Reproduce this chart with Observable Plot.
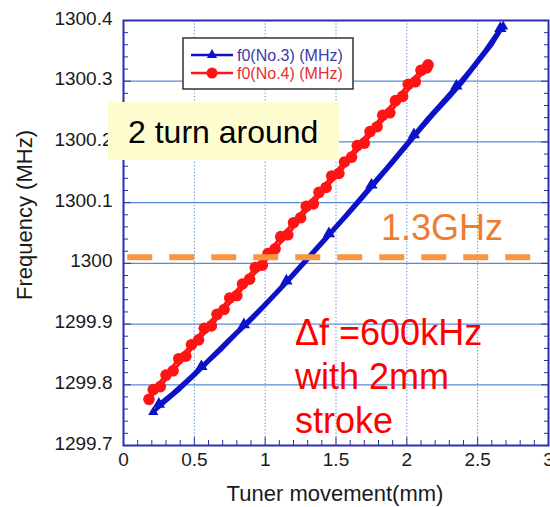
<!DOCTYPE html>
<html><head><meta charset="utf-8">
<script src="https://cdn.jsdelivr.net/npm/d3@7"></script>
<script src="https://cdn.jsdelivr.net/npm/@observablehq/plot@0.6"></script>
<style>
body{margin:0;background:#fff;}
#wrap{width:550px;height:507px;}
</style></head><body><div id="wrap"></div>
<script>
// ---- tick values / labels ----
const xTicks = [0, 0.5, 1, 1.5, 2, 2.5, 3];
const xTickLabels = ["0", "0.5", "1", "1.5", "2", "2.5", "3"];
const yTicks = [1299.7, 1299.8, 1299.9, 1300, 1300.1, 1300.2, 1300.3, 1300.4];
const yTickLabels = ["1299.7", "1299.8", "1299.9", "1300", "1300.1", "1300.2", "1300.3", "1300.4"];
const xMinor = [0.1,0.2,0.3,0.4,0.6,0.7,0.8,0.9,1.1,1.2,1.3,1.4,1.6,1.7,1.8,1.9,2.1,2.2,2.3,2.4,2.6,2.7,2.8,2.9];
const yMinor = [1299.72,1299.74,1299.76,1299.78,1299.82,1299.84,1299.86,1299.88,1299.92,1299.94,1299.96,1299.98,
                1300.02,1300.04,1300.06,1300.08,1300.12,1300.14,1300.16,1300.18,1300.22,1300.24,1300.26,1300.28,
                1300.32,1300.34,1300.36,1300.38];

// ---- series: f0(No.3) two passes ----
const no3UpX = [0.21,0.30,0.40,0.50,0.60,0.70,0.80,0.90,1.00,1.10,1.20,1.30,1.40,1.50,1.60,1.70,1.80,1.90,2.00,2.10,2.20,2.30,2.40,2.50,2.60,2.68];
const no3UpY = [1299.755,1299.773,1299.793,1299.815,1299.838,1299.860,1299.884,1299.906,1299.930,1299.955,1299.980,1300.006,1300.032,1300.058,1300.084,1300.111,1300.138,1300.165,1300.193,1300.221,1300.248,1300.273,1300.300,1300.330,1300.360,1300.390];
const no3DnX = [2.66,2.55,2.45,2.35,2.25,2.15,2.05,1.95,1.85,1.75,1.65,1.55,1.45,1.35,1.25,1.15,1.05,0.95,0.85,0.75,0.65,0.55,0.45,0.35,0.25];
const no3DnY = [1300.387,1300.350,1300.320,1300.292,1300.266,1300.240,1300.212,1300.184,1300.156,1300.129,1300.102,1300.075,1300.049,1300.023,1299.997,1299.971,1299.946,1299.922,1299.899,1299.876,1299.853,1299.830,1299.808,1299.787,1299.768];

// ---- series: f0(No.4) two passes ----
const no4UpX = [0.18,0.26,0.35,0.44,0.53,0.62,0.71,0.80,0.89,0.98,1.07,1.16,1.25,1.34,1.43,1.52,1.61,1.70,1.79,1.88,1.97,2.06,2.14];
const no4UpY = [1299.776,1299.797,1299.823,1299.847,1299.874,1299.897,1299.924,1299.947,1299.974,1299.997,1300.024,1300.047,1300.075,1300.098,1300.125,1300.148,1300.175,1300.198,1300.225,1300.248,1300.275,1300.299,1300.322];
const no4DnX = [2.15,2.10,2.01,1.92,1.83,1.74,1.65,1.56,1.47,1.38,1.29,1.20,1.11,1.02,0.93,0.84,0.75,0.66,0.57,0.48,0.39,0.30,0.21];
const no4DnY = [1300.327,1300.318,1300.295,1300.268,1300.244,1300.217,1300.194,1300.167,1300.144,1300.117,1300.094,1300.067,1300.044,1300.016,1299.993,1299.966,1299.943,1299.916,1299.893,1299.866,1299.843,1299.816,1299.792];

// reference level (1.3 GHz) line
const refLevel = [1300.01];
const refStart = 0.03, refEnd = 2.88;

const seriesNames = ["f0(No.3) (MHz)", "f0(No.4) (MHz)"];
const blue = "#0c12c8", red = "#ff1414";

const toRows = (xs, ys) => xs.map((x, i) => ({x, y: ys[i]}));
const no3Up = toRows(no3UpX, no3UpY), no3Dn = toRows(no3DnX, no3DnY);
const no4Up = toRows(no4UpX, no4UpY), no4Dn = toRows(no4DnX, no4DnY);

const gridC = "#5a8bd2", frameC = "#2c2cb0";
const fmtY = d => yTickLabels[yTicks.findIndex(v => Math.abs(v - d) < 1e-6)];
const fmtX = d => xTickLabels[xTicks.findIndex(v => Math.abs(v - d) < 1e-6)];

const svg = Plot.plot({
  width: 550, height: 507,
  marginLeft: 123, marginRight: 2, marginTop: 20, marginBottom: 62,
  style: {fontFamily: "'Liberation Sans', Arial, sans-serif", fontSize: "19px", color: "#1a1a1a", background: "#fff"},
  x: {domain: [0, 3], label: null},
  y: {domain: [1299.7, 1300.4], label: null},
  marks: [
    Plot.gridY(yTicks, {stroke: gridC, strokeOpacity: 1, strokeWidth: 1.2}),
    Plot.gridX(xTicks, {stroke: gridC, strokeOpacity: 1, strokeWidth: 1, strokeDasharray: "1.3,2"}),
    Plot.axisY(yTicks, {anchor: "left", tickSize: 0, tickPadding: 11, dy: -2, tickFormat: fmtY, label: null, fill: "#1a1a1a", fontSize: 19}),
    Plot.axisX(xTicks, {anchor: "bottom", tickSize: 0, tickPadding: 7, tickFormat: fmtX, label: null, fill: "#1a1a1a", fontSize: 19}),
    Plot.axisY(yMinor, {anchor: "left", tickSize: -5, tickFormat: () => "", label: null, stroke: frameC}),
    Plot.axisY(yMinor, {anchor: "right", tickSize: -5, tickFormat: () => "", label: null, stroke: frameC}),
    Plot.axisY(yTicks, {anchor: "left", tickSize: -8, tickFormat: () => "", label: null, stroke: frameC}),
    Plot.axisY(yTicks, {anchor: "right", tickSize: -8, tickFormat: () => "", label: null, stroke: frameC}),
    Plot.axisX(xMinor, {anchor: "bottom", tickSize: -5, tickFormat: () => "", label: null, stroke: frameC}),
    Plot.axisX(xTicks, {anchor: "bottom", tickSize: -8, tickFormat: () => "", label: null, stroke: frameC}),
    Plot.frame({stroke: frameC, strokeWidth: 2}),
    Plot.line(no3Up, {x: "x", y: "y", stroke: blue, strokeWidth: 3.6}),
    Plot.line(no3Dn, {x: "x", y: "y", stroke: blue, strokeWidth: 3.6}),
    Plot.dot(no3Dn.filter((d, i) => i % 3 === 0), {x: "x", y: "y", symbol: "triangle", r: 3.6, fill: blue, stroke: blue}),
    Plot.dot([no3Up[0], no3Up[no3Up.length - 1]], {x: "x", y: "y", symbol: "triangle", r: 3.8, fill: blue}),
    Plot.line(no4Up, {x: "x", y: "y", stroke: red, strokeWidth: 3}),
    Plot.line(no4Dn, {x: "x", y: "y", stroke: red, strokeWidth: 3}),
    Plot.dot(no4Up, {x: "x", y: "y", r: 5.8, fill: red}),
    Plot.dot(no4Dn, {x: "x", y: "y", r: 5.8, fill: red}),
    Plot.ruleY(refLevel, {x1: refStart, x2: refEnd, stroke: "#f7963f", strokeWidth: 6, strokeDasharray: "25,17"})
  ]
});

const s = d3.select(svg);
const ff = "'Liberation Sans', Arial, sans-serif";
const addText = (x, y, txt, size, fill, anchor = "start") =>
  s.append("text").attr("x", x).attr("y", y).attr("text-anchor", anchor)
   .attr("font-family", ff).attr("font-size", size).attr("fill", fill).text(txt);

// legend
const lg = s.append("g");
lg.append("rect").attr("x", 183).attr("y", 38).attr("width", 170).attr("height", 51)
  .attr("fill", "#fff").attr("stroke", "#333").attr("stroke-width", 1.5);
const legendRows = [
  {name: seriesNames[0], color: blue, text: "#3a3aab", sym: d3.symbolTriangle, size: 45, cy: 55},
  {name: seriesNames[1], color: red, text: "#e53030", sym: d3.symbolCircle, size: 95, cy: 73}
];
for (const r of legendRows) {
  lg.append("line").attr("x1", 191).attr("x2", 233).attr("y1", r.cy).attr("y2", r.cy)
    .attr("stroke", r.color).attr("stroke-width", 2.5);
  lg.append("path").attr("d", d3.symbol(r.sym, r.size)()).attr("transform", `translate(212,${r.cy})`).attr("fill", r.color);
  lg.append("text").attr("x", 237).attr("y", r.cy + 6).attr("text-anchor", "start").attr("fill", r.text)
    .attr("font-family", ff).attr("font-size", 16).text(r.name);
}

// "2 turn around" box
s.append("rect").attr("x", 108).attr("y", 102).attr("width", 231).attr("height", 58).attr("fill", "#fefdd0");
addText(128, 143, "2 turn around", 32, "#000");

// 1.3GHz label
addText(381, 240, "1.3GHz", 36, "#ee7d31");

// red annotation
const redLines = ["\u0394f =600kHz", "with 2mm", "stroke"];
redLines.forEach((t, i) => addText(295, 345 + i * 44, t, 36, "#ff0000"));

// axis titles
s.append("text").attr("transform", "translate(32,215) rotate(-90)").attr("text-anchor", "middle")
  .attr("font-family", ff).attr("font-size", 22).attr("fill", "#1a1a1a").text("Frequency (MHz)");
addText(335, 501, "Tuner movement(mm)", 22, "#1a1a1a", "middle");

document.getElementById("wrap").appendChild(svg);
</script>
</body></html>
